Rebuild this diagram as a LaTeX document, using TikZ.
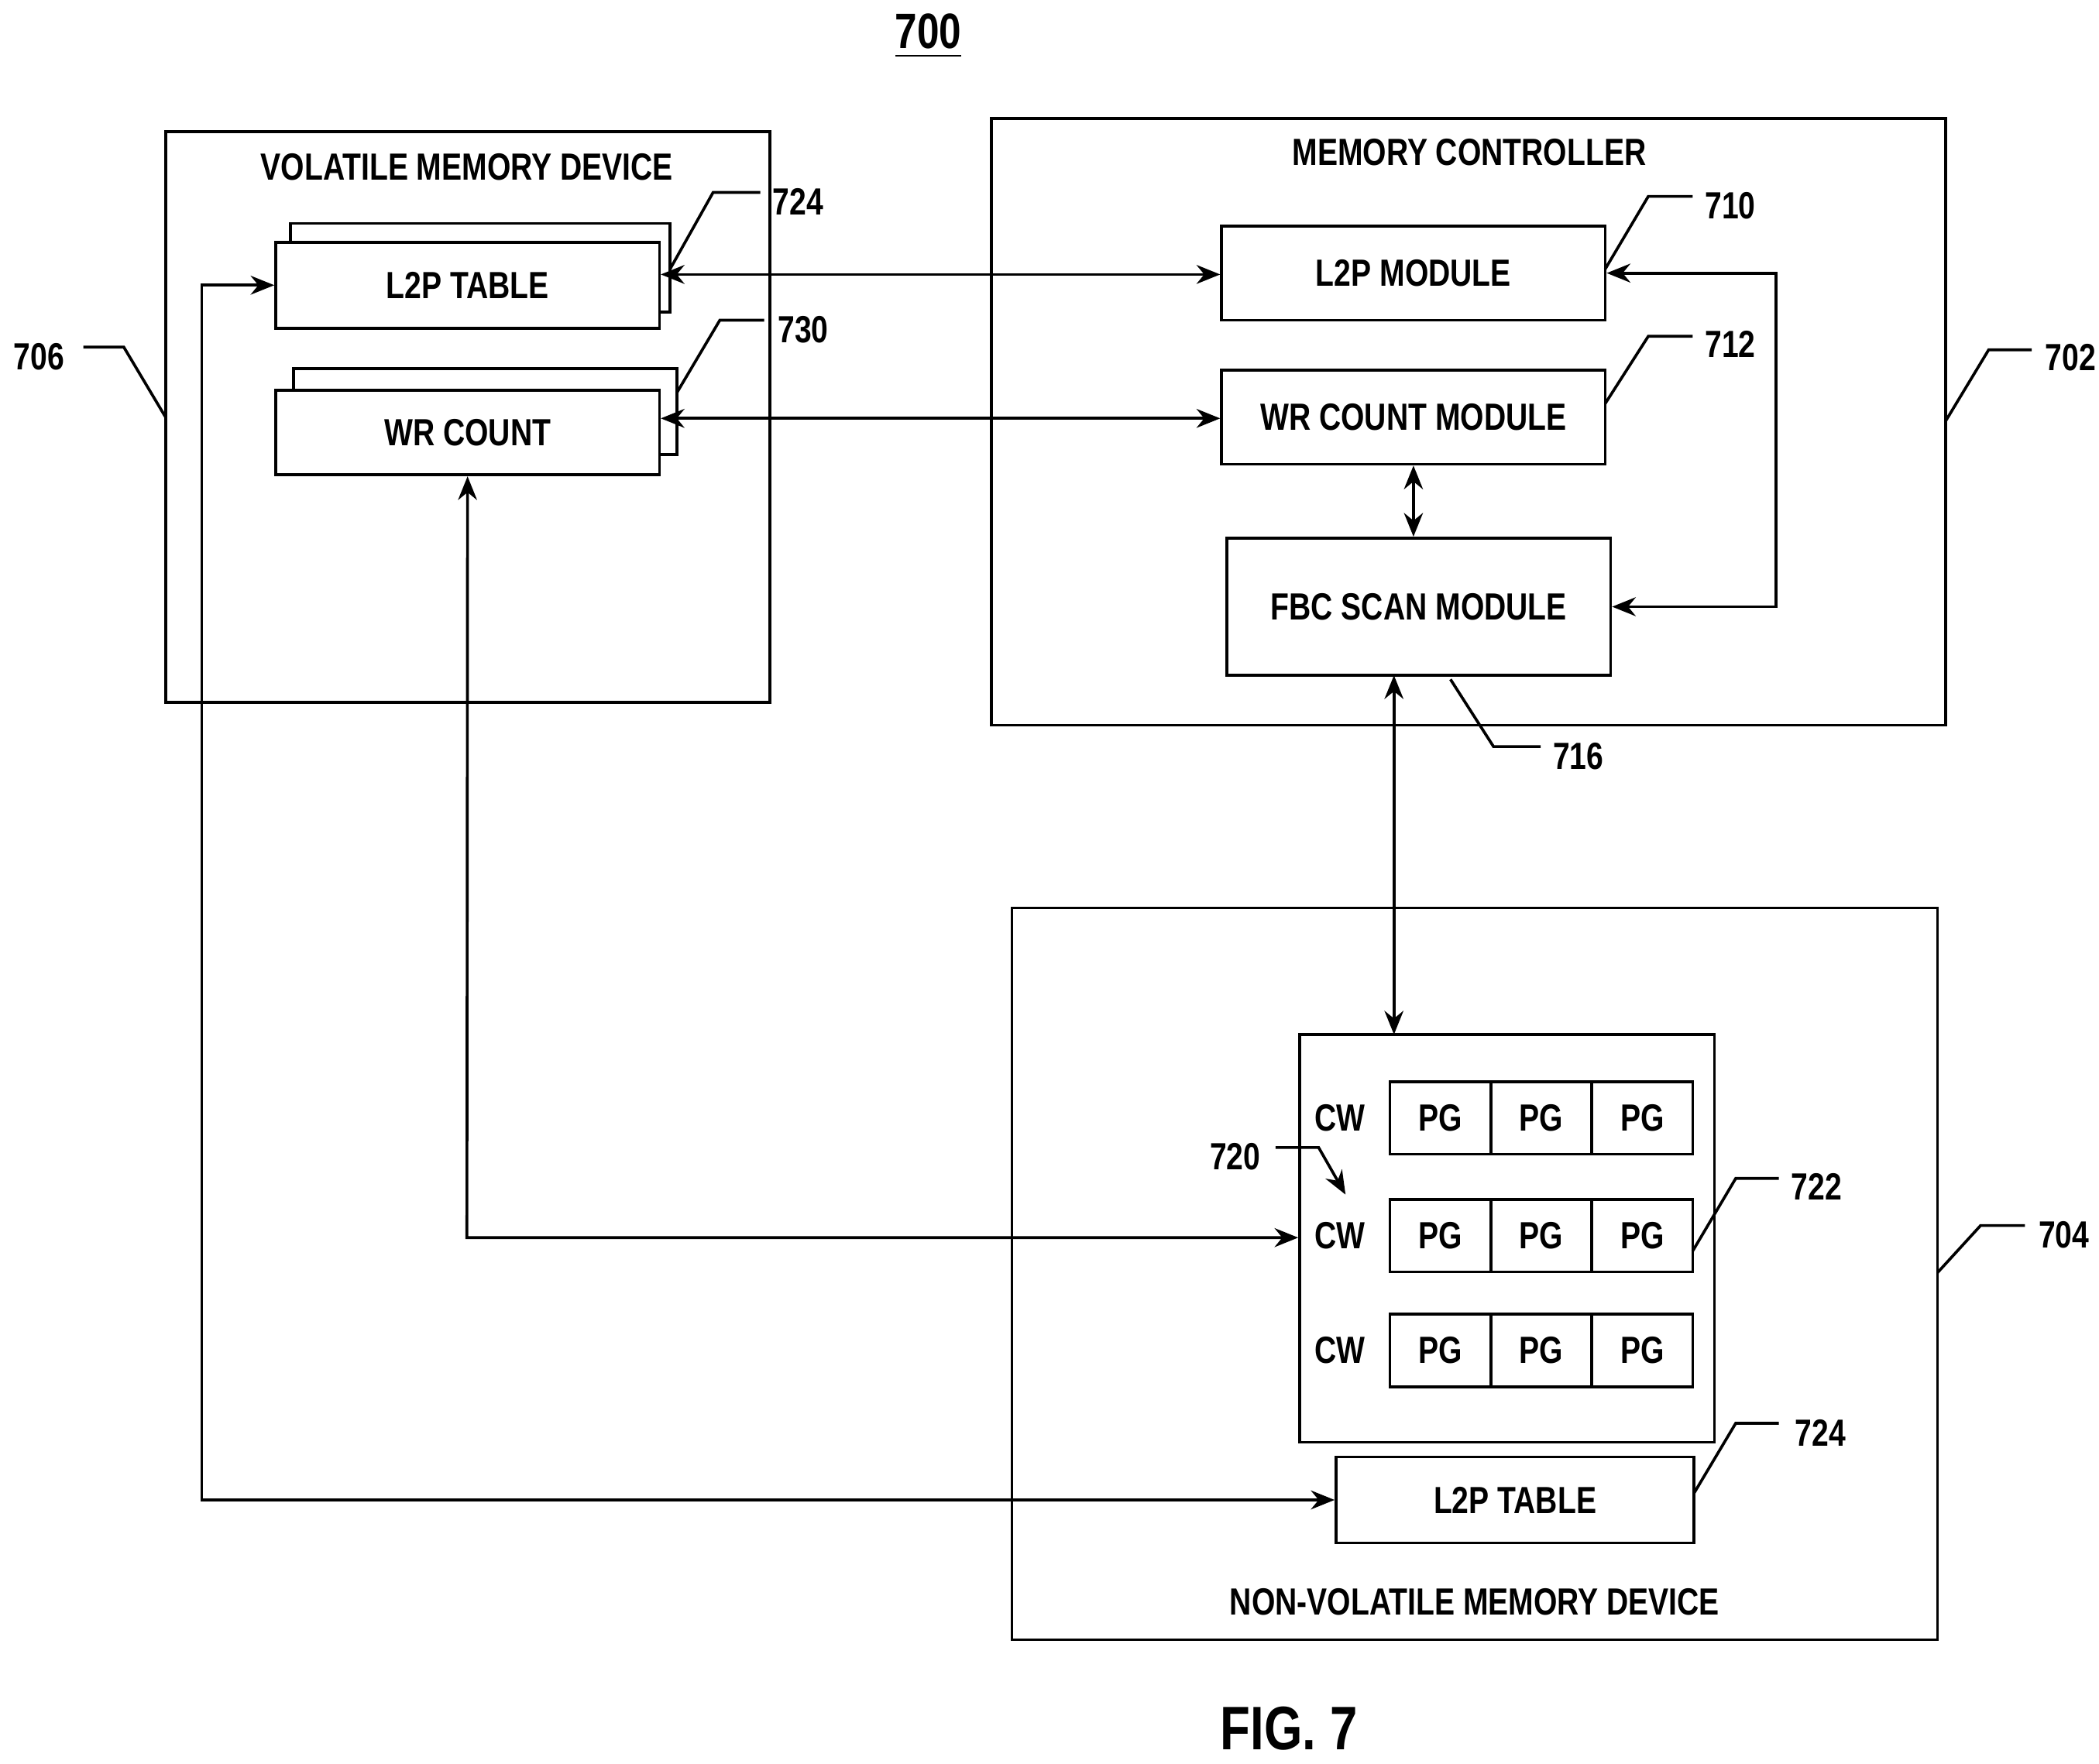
\documentclass[tikz,border=0pt]{standalone}
\usepackage{fontspec}
\setmainfont{Liberation Sans}[FakeStretch=0.8]
\usetikzlibrary{arrows.meta,positioning}
\tikzset{
  blk/.style={draw,line width=0.6pt,fill=white,inner sep=0pt,font=\fontsize{8}{9.6}\selectfont\bfseries},
  lbl/.style={font=\fontsize{8}{9.6}\selectfont\bfseries,inner sep=1pt},
  lead/.style={line width=0.6pt},
  link/.style={line width=0.6pt,{Stealth[length=5pt,width=4pt]}-{Stealth[length=5pt,width=4pt]}},
  onearr/.style={line width=0.6pt,-{Stealth[length=5pt,width=4pt]}}
}
\begin{document}
\begin{tikzpicture}[x=0.01cm,y=-0.01cm]
  \useasboundingbox (0,0) rectangle (1560,1311);
  \node[lbl,font=\fontsize{10.5}{12}\selectfont\bfseries] (fig) at (690,27) {\underline{700}};
  \node[font=\fontsize{13}{15}\selectfont\bfseries] (cap) at (958,1285) {FIG. 7};

  % volatile memory device
  \draw[lead] (123,98) rectangle (572,522);
  \node[lbl] (vtitle) at (347,124) {VOLATILE MEMORY DEVICE};
  \draw[lead] (216,166) rectangle (498,232);
  \node[blk,minimum width=2.85cm,minimum height=0.64cm] (l2pt) at (347.5,212) {L2P TABLE};
  \draw[lead] (218,274) rectangle (503,338);
  \node[blk,minimum width=2.85cm,minimum height=0.63cm] (wrc) at (347.5,321.5) {WR COUNT};

  % memory controller
  \draw[lead] (737,88) rectangle (1446,539);
  \node[lbl] (ctitle) at (1092,113) {MEMORY CONTROLLER};
  \node[blk,minimum width=2.85cm,minimum height=0.70cm] (l2pm) at (1050.5,203) {L2P MODULE};
  \node[blk,minimum width=2.85cm,minimum height=0.70cm] (wrm) at (1050.5,310) {WR COUNT MODULE};
  \node[blk,minimum width=2.85cm,minimum height=1.02cm] (fbc) at (1054.5,451) {FBC SCAN MODULE};

  % non-volatile memory device
  \draw[lead] (752,675) rectangle (1440,1219);
  \node[lbl] (ntitle) at (1096,1191) {NON-VOLATILE MEMORY DEVICE};
  \node[blk,minimum width=3.08cm,minimum height=3.03cm] (blkcw) at (1120,920.5) {};
  \foreach \r/\y in {1/831,2/918.5,3/1004}{
    \node[lbl] (cw\r) at (996,\y) {CW};
    \foreach \c in {1,2,3}{
      \node[blk,minimum width=0.75cm,minimum height=0.54cm] (pg\r\c) at (1033+75*\c-37.5,\y) {PG};
    }
  }
  \node[blk,minimum width=2.66cm,minimum height=0.64cm] (l2pn) at (1126,1115) {L2P TABLE};

  % connectors
  \draw[link] (l2pt.east |- 0,204) -- (l2pm.west |- 0,204);
  \draw[link] (wrc.east |- 0,311) -- (wrm.west |- 0,311);
  \draw[link] (wrm.south) -- (wrm.south |- fbc.north);
  \draw[link] (l2pm.east) -- (1320,203) -- (1320,451) -- (fbc.east);
  \draw[link] (1036,502) -- (1036,769);
  \draw[link] (wrc.south) -- (347,920) -- (blkcw.west |- 0,920);
  \draw[link] (l2pt.west) -- (150,212) -- (150,1115) -- (l2pn.west);

  % reference numerals
  \node[lbl,anchor=west] (n724a) at (570,150) {724};
  \draw[lead] (498,200) -- (530,143) -- (565,143);
  \node[lbl,anchor=west] (n730) at (574,245) {730};
  \draw[lead] (503,292) -- (535,238) -- (568,238);
  \node[lbl,anchor=east] (n706) at (52,265) {706};
  \draw[lead] (62,258) -- (92,258) -- (123,310);
  \node[lbl,anchor=west] (n710) at (1263,153) {710};
  \draw[lead] (1193,200) -- (1225,146) -- (1258,146);
  \node[lbl,anchor=west] (n712) at (1263,256) {712};
  \draw[lead] (1193,300) -- (1225,250) -- (1258,250);
  \node[lbl,anchor=west] (n716) at (1150,562) {716};
  \draw[lead] (1078,505) -- (1110,555) -- (1145,555);
  \node[lbl,anchor=west] (n702) at (1516,266) {702};
  \draw[lead] (1446,313) -- (1478,260) -- (1510,260);
  \node[lbl,anchor=west] (n704) at (1511,918) {704};
  \draw[lead] (1440,946) -- (1472,911) -- (1505,911);
  \node[lbl,anchor=east] (n720) at (941,860) {720};
  \draw[onearr] (948,853) -- (980,853) -- (1000,888);
  \node[lbl,anchor=west] (n722) at (1327,882) {722};
  \draw[lead] (1258,930) -- (1290,876) -- (1322,876);
  \node[lbl,anchor=west] (n724b) at (1330,1065) {724};
  \draw[lead] (1259,1110) -- (1290,1058) -- (1322,1058);
\end{tikzpicture}
\end{document}
